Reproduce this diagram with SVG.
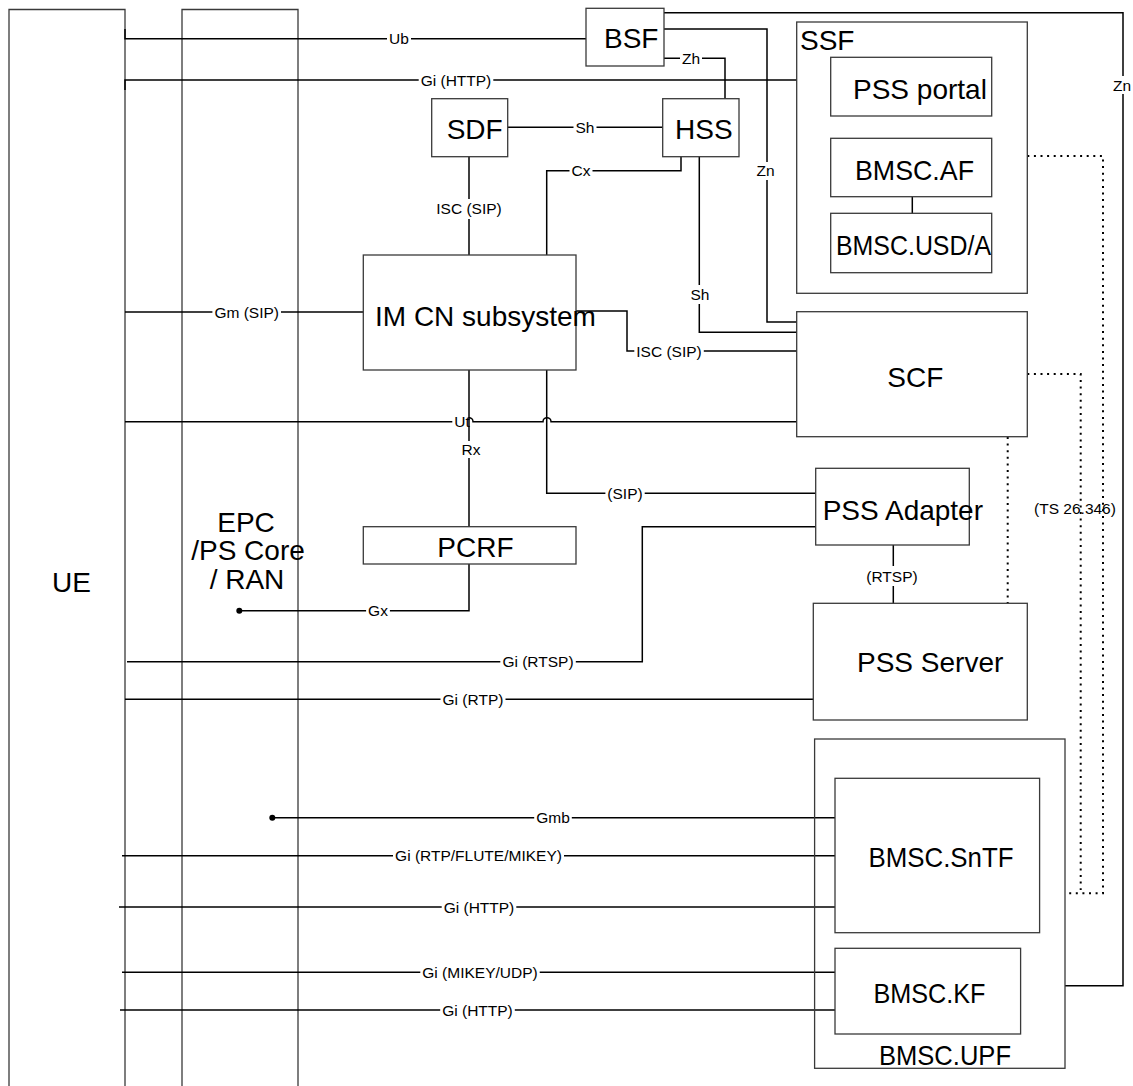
<svg xmlns="http://www.w3.org/2000/svg" width="1133" height="1086" viewBox="0 0 1133 1086">
<style>
  .box{fill:none;stroke:#3a3a3a;stroke-width:1.3}
  .c{fill:none;stroke:#000;stroke-width:1.5}
  .d{fill:none;stroke:#000;stroke-width:2;stroke-dasharray:2 4.6}
  .t{font-family:"Liberation Sans",Arial,sans-serif;font-size:28px;fill:#000}
  .l{font-family:"Liberation Sans",Arial,sans-serif;font-size:15.5px;fill:#000;text-anchor:middle}
  .bg{fill:#fff;stroke:none}
</style>
<rect width="1133" height="1086" fill="#fff"/>

<g id="UE"><path class="box" d="M9,1086 V9.5 H125 V1086"/><text class="t" x="52" y="592">UE</text></g>
<g id="EPC"><path class="box" d="M182,1086 V9.5 H298 V1086"/>
  <text class="t" x="246" y="532" text-anchor="middle">EPC</text>
  <text class="t" x="248" y="560" text-anchor="middle">/PS Core</text>
  <text class="t" x="247" y="589" text-anchor="middle">/ RAN</text></g>

<g id="connectors">
  <path class="c" d="M125,29 V38.7 H586"/>
  <path class="c" d="M125,90 V80 H797"/>
  <path class="c" d="M664,12.7 H1123 V985.7 H1065"/>
  <path class="c" d="M664,29 H767 V322 H797"/>
  <path class="c" d="M664,58.3 H725 V98.7"/>
  <path class="c" d="M507.7,127.3 H662.7"/>
  <path class="c" d="M681,156.7 V170.7 H546.7 V255"/>
  <path class="c" d="M469,156.7 V255"/>
  <path class="c" d="M699.3,156.7 V332.3 H797"/>
  <path class="c" d="M125,312 H363.3"/>
  <path class="c" d="M576,311 H627 V351 H797"/>
  <path class="c" d="M125,421.7 H465 A4,4 0 0 1 473,421.7 H543 A4,4 0 0 1 551,421.7 H797"/>
  <path class="c" d="M546.7,370 V493.3 H815.7"/>
  <path class="c" d="M127,661.7 H642.3 V526.7 H815.7"/>
  <path class="c" d="M125,699.3 H813.3"/>
  <path class="c" d="M893.3,545 V603.3"/>
  <path class="c" d="M912.3,196.7 V213.3"/>
  <path class="c" d="M272.3,817.7 H835"/>
  <path class="c" d="M122,855.7 H835"/>
  <path class="c" d="M119,907 H835"/>
  <path class="c" d="M122,972.3 H835"/>
  <path class="c" d="M120,1010 H835"/>
  <path class="d" d="M1027.3,156 H1103 V893.3 H1065"/>
  <path class="d" d="M1027.3,374 H1080.7 V890"/>
  <path class="d" d="M1007.7,437 V603.3"/>
  <circle cx="239.3" cy="610.7" r="3" fill="#000"/>
  <circle cx="272.3" cy="817.7" r="3" fill="#000"/>

  <rect class="bg" x="387" y="31.7" width="24" height="14"/><text class="l" x="399" y="44">Ub</text>
  <rect class="bg" x="418.7" y="73" width="74.6" height="14"/><text class="l" x="456" y="85.5">Gi (HTTP)</text>
  <rect class="bg" x="1111" y="76" width="22" height="18"/><text class="l" x="1122" y="90.5">Zn</text>
  <rect class="bg" x="754.5" y="162" width="22" height="18"/><text class="l" x="765.5" y="176">Zn</text>
  <rect class="bg" x="680" y="51.3" width="22" height="14"/><text class="l" x="691" y="63.8">Zh</text>
  <rect class="bg" x="573.5" y="120.3" width="23" height="14"/><text class="l" x="585" y="132.8">Sh</text>
  <rect class="bg" x="569.5" y="163.7" width="23" height="14"/><text class="l" x="581" y="176.2">Cx</text>
  <rect class="bg" x="434" y="199" width="70" height="20"/><text class="l" x="469" y="213.5">ISC (SIP)</text>
  <rect class="bg" x="688.5" y="285" width="23" height="19"/><text class="l" x="700" y="299.8">Sh</text>
  <rect class="bg" x="212.4" y="305" width="68.6" height="14"/><text class="l" x="246.7" y="317.5">Gm (SIP)</text>
  <rect class="bg" x="634.3" y="344" width="69.5" height="14"/><text class="l" x="669" y="356.5">ISC (SIP)</text>
  <rect class="bg" x="452.3" y="414.7" width="16" height="14"/><text class="l" x="462" y="427.2">Ut</text>
  <path class="c" d="M469,370 V526.7"/>
  <rect class="bg" x="459.5" y="441" width="23" height="17"/><text class="l" x="471" y="455">Rx</text>
  <path class="c" d="M469,564 V610.7 H239.3"/>
  <rect class="bg" x="366.1" y="603.7" width="23.8" height="14"/><text class="l" x="378" y="616.2">Gx</text>
  <rect class="bg" x="605.4" y="486.3" width="39.3" height="14"/><text class="l" x="625" y="498.8">(SIP)</text>
  <rect class="bg" x="500.3" y="654.7" width="75.5" height="14"/><text class="l" x="538" y="667.2">Gi (RTSP)</text>
  <rect class="bg" x="440.5" y="692.3" width="65" height="14"/><text class="l" x="473" y="704.8">Gi (RTP)</text>
  <rect class="bg" x="864" y="566" width="56" height="20"/><text class="l" x="892" y="581.5">(RTSP)</text>
  <text class="l" x="1075" y="513.5">(TS 26.346)</text>
  <rect class="bg" x="534.2" y="810.7" width="37.6" height="14"/><text class="l" x="553" y="823.2">Gmb</text>
  <rect class="bg" x="393" y="848.7" width="171" height="14"/><text class="l" x="478.5" y="861.2">Gi (RTP/FLUTE/MIKEY)</text>
  <rect class="bg" x="441.7" y="900" width="74.6" height="14"/><text class="l" x="479" y="912.5">Gi (HTTP)</text>
  <rect class="bg" x="420.3" y="965.3" width="119.4" height="14"/><text class="l" x="480" y="977.8">Gi (MIKEY/UDP)</text>
  <rect class="bg" x="440.2" y="1003" width="74.6" height="14"/><text class="l" x="477.5" y="1015.5">Gi (HTTP)</text>
</g>

<g id="BSF"><rect class="box" x="586" y="8.3" width="78" height="57.7"/><text class="t" x="604" y="48">BSF</text></g>
<g id="SDF"><rect class="box" x="431.7" y="98.7" width="76" height="58"/><text class="t" x="446.7" y="139">SDF</text></g>
<g id="HSS"><rect class="box" x="662.7" y="98.7" width="76.3" height="58"/><text class="t" x="675" y="139">HSS</text></g>
<g id="SSF"><rect class="box" x="796.7" y="22" width="230.6" height="271.3"/><text class="t" x="800" y="50">SSF</text></g>
<g id="PSSportal"><rect class="box" x="830.7" y="57.3" width="161" height="58.7"/><text class="t" x="853" y="98.7">PSS portal</text></g>
<g id="BMSCAF"><rect class="box" x="830.7" y="138.3" width="161" height="58.4"/><text class="t" x="855" y="180" textLength="119" lengthAdjust="spacingAndGlyphs">BMSC.AF</text></g>
<g id="BMSCUSDA"><rect class="box" x="830.7" y="213.3" width="161" height="59.4"/><text class="t" x="836" y="255" textLength="155" lengthAdjust="spacingAndGlyphs">BMSC.USD/A</text></g>
<g id="IMCN"><rect class="box" x="363.3" y="255" width="212.7" height="115"/><text class="t" x="375" y="326">IM CN subsystem</text></g>
<g id="SCF"><rect class="box" x="796.7" y="311.7" width="230.6" height="125"/><text class="t" x="887.3" y="387.3">SCF</text></g>
<g id="PCRF"><rect class="box" x="363.3" y="526.7" width="212.7" height="37.3"/><text class="t" x="437.3" y="556.7">PCRF</text></g>
<g id="PSSAdapter"><rect class="box" x="815.7" y="468.3" width="153.6" height="76.7"/><text class="t" x="822.7" y="520">PSS Adapter</text></g>
<g id="PSSServer"><rect class="box" x="813.3" y="603.3" width="214" height="116.7"/><text class="t" x="857" y="672.3">PSS Server</text></g>
<g id="BMSCUPF"><rect class="box" x="814.6" y="739" width="250.4" height="329.3"/><text class="t" x="879" y="1065" textLength="132" lengthAdjust="spacingAndGlyphs">BMSC.UPF</text></g>
<g id="BMSCSnTF"><rect class="box" x="835" y="778.3" width="204.6" height="154.4"/><text class="t" x="868.5" y="867" textLength="145" lengthAdjust="spacingAndGlyphs">BMSC.SnTF</text></g>
<g id="BMSCKF"><rect class="box" x="835" y="948.3" width="185.6" height="85.7"/><text class="t" x="873.5" y="1003" textLength="112" lengthAdjust="spacingAndGlyphs">BMSC.KF</text></g>
</svg>
